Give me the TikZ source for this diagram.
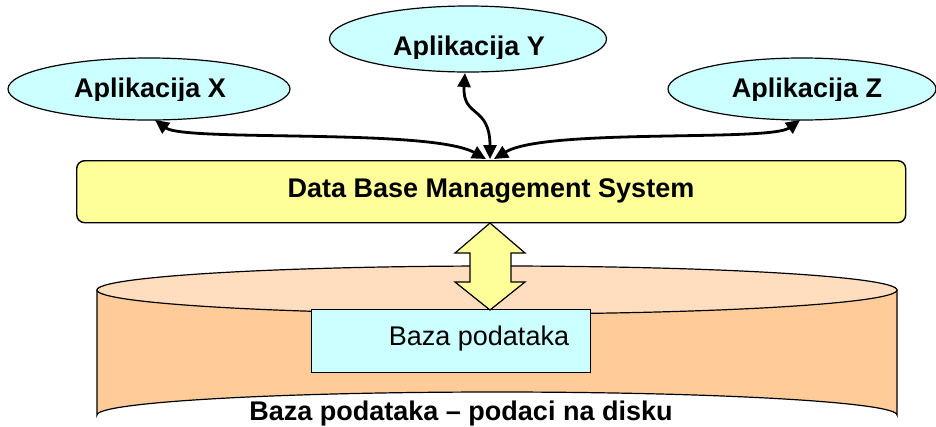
\documentclass[tikz,border=0pt]{standalone}
\usepackage{fontspec}
\setmainfont{Liberation Sans}
\usetikzlibrary{arrows.meta,shapes.geometric}
\definecolor{appfill}{RGB}{204,255,255}
\definecolor{dbmsfill}{RGB}{255,255,153}
\definecolor{cylbody}{RGB}{255,204,153}
\definecolor{cyltop}{RGB}{255,222,192}
\tikzset{
  app/.style={ellipse,draw=black,line width=1.2pt,fill=appfill,inner sep=0pt},
  conn/.style={line width=2.8pt,{Triangle[length=14pt,width=13pt]}-{Triangle[length=14pt,width=13pt]}},
  txt/.style={inner sep=0pt,font=\fontsize{27}{30}\selectfont},
  btxt/.style={inner sep=0pt,font=\fontsize{27}{30}\selectfont\bfseries},
}
\begin{document}
\begin{tikzpicture}[x=1pt,y=-1pt]
\useasboundingbox (0,0) rectangle (936,426);
% cylinder
\path[fill=cylbody,draw=black,line width=1.2pt]
  (97,290) -- (97,415) arc[start angle=180,end angle=360,x radius=400,y radius=23]
  -- (897,290) -- cycle;
\node[ellipse,draw=black,line width=1.2pt,fill=cyltop,minimum width=800pt,minimum height=48pt,inner sep=0pt] (ctop) at (497,290) {};
\node[draw=black,line width=1.2pt,fill=appfill,minimum width=279pt,minimum height=63pt,inner sep=0pt,anchor=north west] (bp) at (311,309) {};
\node[txt] (bpt) at (479,339) {Baza podataka};
\node[btxt] (disk) at (461,414) {Baza podataka – podaci na disku};
% DBMS
\node[draw=black,line width=1.4pt,fill=dbmsfill,rounded corners=8pt,minimum width=829pt,minimum height=62pt,inner sep=0pt,anchor=north west] (dbms) at (76,160) {};
\node[btxt] (dbmst) at (491,191) {Data Base Management System};
% block double arrow
\path[fill=dbmsfill,draw=black,line width=1.2pt]
  (490,223) -- (525,253) -- (511,253) -- (511,282) -- (525,282) -- (490,310)
  -- (455,282) -- (470,282) -- (470,253) -- (455,253) -- cycle;
% applications
\node[app,minimum width=282pt,minimum height=62pt] (ax) at (149,89) {};
\node[app,minimum width=277pt,minimum height=66pt] (ay) at (468,39) {};
\node[app,minimum width=268pt,minimum height=62pt] (az) at (802,89) {};
\begin{scope}
\clip (0,0) rectangle (936,100);
\node[btxt] (axt) at (150,91) {Aplikacija X};
\node[btxt] (azt) at (807,91) {Aplikacija Z};
\end{scope}
\begin{scope}
\clip (0,0) rectangle (936,58);
\node[btxt] (ayt) at (469,49) {Aplikacija Y};
\end{scope}
% connectors
\coordinate (dl) at (486,159);
\coordinate (dm) at (490,159);
\coordinate (dr) at (494,159);
\coordinate (xe) at (155,120);
\coordinate (ye) at (465,73);
\coordinate (ze) at (800,120);
\draw[conn] (xe) .. controls (185,142) and (430,128) .. (dl);
\draw[conn] (ye) .. controls (462,118) and (490,105) .. (dm);
\draw[conn] (ze) .. controls (770,142) and (545,128) .. (dr);
\end{tikzpicture}
\end{document}
